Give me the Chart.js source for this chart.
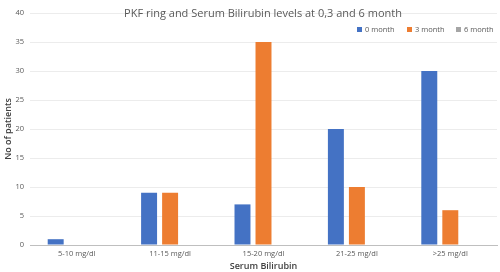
<!DOCTYPE html>
<html>
<head>
<meta charset="utf-8">
<script src="https://cdn.jsdelivr.net/npm/chart.js@4"></script>
<style>
  html, body { margin: 0; padding: 0; background: #fff; }
  #wrap { width: 500px; height: 272px; position: relative; }
</style>
</head>
<body>
<div id="wrap"><canvas id="barChart"></canvas></div>
<script>
const categorias = ['5-10 mg/dl', '11-15 mg/dl', '15-20 mg/dl', '21-25 mg/dl', '>25 mg/dl'];
const mes0 = [1, 9, 7, 20, 30];
const mes3 = [0, 9, 35, 10, 6];
const mes6 = [0, 0, 0, 0, 0];
const titulo = 'PKF ring and Serum Bilirubin levels at 0,3 and 6 month';

const fonte = "'Open Sans', 'Liberation Sans', sans-serif";

// titulo e legenda ficam dentro da area do grafico, entao desenhamos na mao
const sobreposicao = {
    id: 'sobreposicao',
    afterDraw(chart) {
        const c = chart.ctx;
        c.save();
        c.fillStyle = '#595959';
        c.font = '11px ' + fonte;
        c.textAlign = 'center';
        c.textBaseline = 'middle';
        c.fillText(titulo, 263, 14);

        c.font = '7.5px ' + fonte;
        c.textAlign = 'left';
        const xs = [357, 407, 456];
        chart.data.datasets.forEach((ds, i) => {
            c.fillStyle = ds.backgroundColor;
            c.fillRect(xs[i], 27, 5, 5);
            c.fillStyle = '#595959';
            c.fillText(ds.label, xs[i] + 8, 29.5);
        });
        c.restore();
    }
};

new Chart(document.getElementById('barChart'), {
    type: 'bar',
    data: {
        labels: categorias,
        datasets: [
            { label: '0 month', data: mes0, backgroundColor: '#4472C4' },
            { label: '3 month', data: mes3, backgroundColor: '#ED7D31' },
            { label: '6 month', data: mes6, backgroundColor: '#A5A5A5' }
        ]
    },
    options: {
        responsive: true,
        maintainAspectRatio: false,
        animation: false,
        layout: { padding: { top: 13, right: 3, left: 0, bottom: 0 } },
        datasets: { bar: { categoryPercentage: 0.675, barPercentage: 0.76 } },
        plugins: {
            legend: { display: false },
            title: { display: false },
            tooltip: { enabled: false }
        },
        scales: {
            x: {
                grid: { display: false, drawTicks: false },
                border: { color: '#bfbfbf' },
                ticks: { color: '#595959', font: { size: 7.5, family: fonte }, padding: 4, maxRotation: 0 },
                title: { display: true, text: 'Serum Bilirubin', color: '#404040', font: { size: 9, family: fonte, weight: '600' }, padding: { top: 5, bottom: 0 } },
                afterFit: s => { s.height = 27; }
            },
            y: {
                min: 0, max: 40,
                ticks: { stepSize: 5, color: '#595959', font: { size: 7.5, family: fonte }, padding: 6 },
                grid: { color: '#ececec', drawTicks: false },
                border: { display: false },
                title: { display: true, text: 'No of patients', color: '#404040', font: { size: 9, family: fonte, weight: '600' }, padding: { top: 3, bottom: 0 } },
                afterFit: s => { s.width = 30; }
            }
        }
    },
    plugins: [sobreposicao]
});
</script>
</body>
</html>
